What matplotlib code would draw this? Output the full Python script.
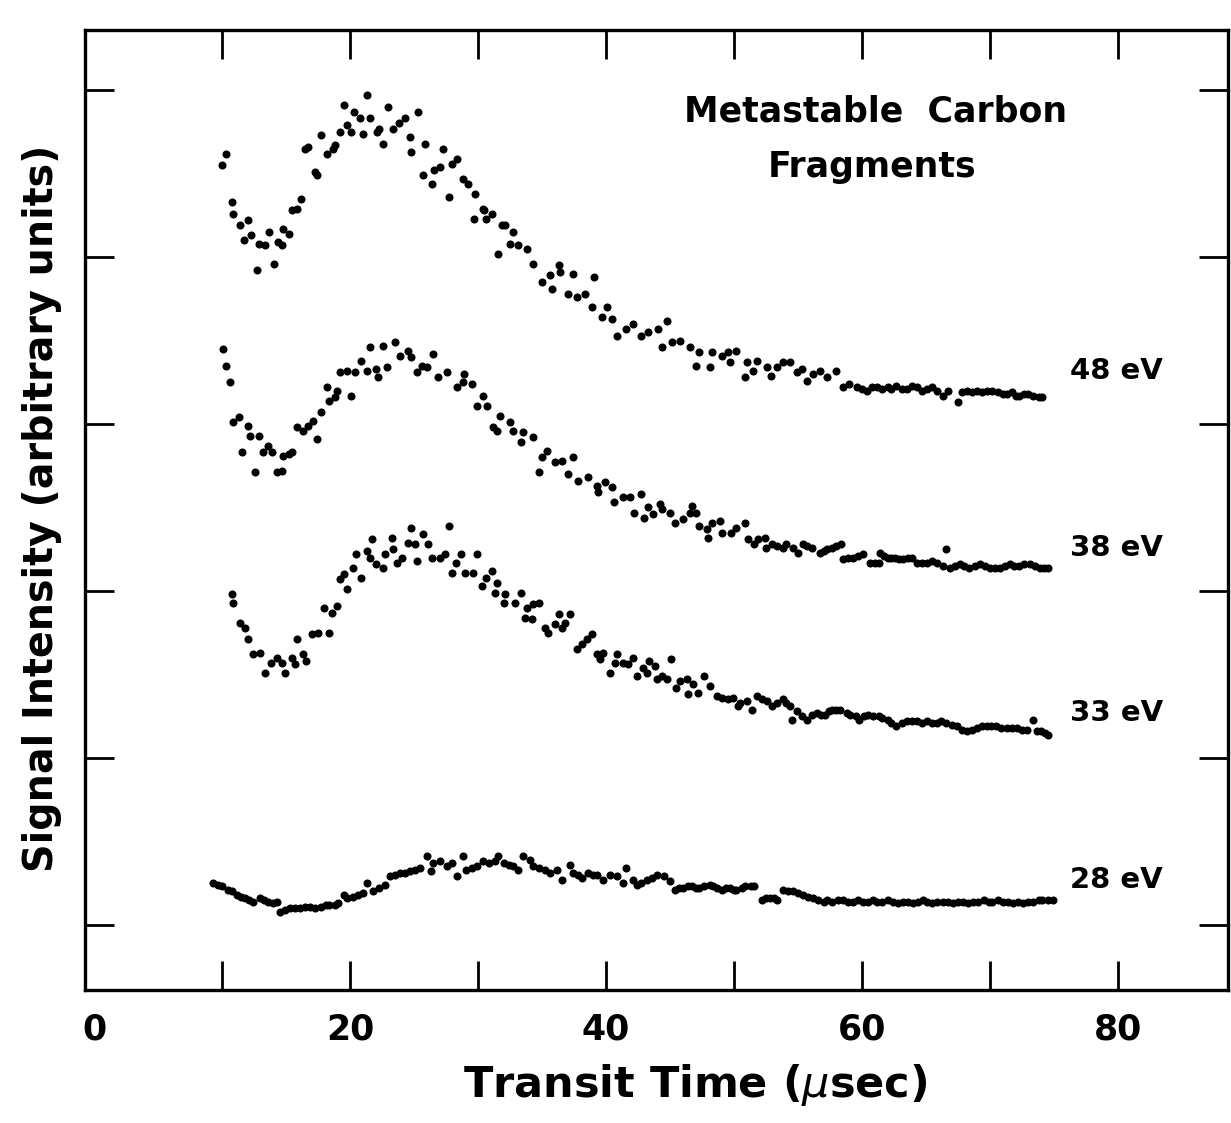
import matplotlib
matplotlib.use("Agg")
import matplotlib.pyplot as plt

# transit time (usec) and signal (arbitrary units, stacked traces)
x48 = [10.0, 10.3, 10.8, 10.9, 11.4, 11.7, 12.0, 12.3, 12.7, 12.9, 13.4, 13.7, 14.1, 14.4, 14.7, 14.8,
       15.2, 15.5, 15.9, 16.2, 16.5, 16.7, 17.3, 17.4, 17.7, 18.2, 18.7, 18.8, 19.2, 19.5, 19.8, 20.1,
       20.3, 20.8, 21.0, 21.3, 21.6, 22.1, 22.3, 22.6, 23.0, 23.4, 23.8, 24.3, 24.7, 24.8, 25.3, 25.7,
       25.9, 26.4, 26.6, 27.0, 27.3, 27.7, 28.0, 28.4, 28.8, 29.2, 29.7, 29.8, 30.4, 30.5, 30.6, 31.1,
       31.6, 31.9, 32.1, 32.5, 32.7, 33.1, 33.8, 34.3, 35.0, 35.6, 35.8, 36.3, 36.4, 37.0, 37.4, 37.7,
       38.4, 38.9, 39.1, 39.7, 40.1, 40.5, 40.9, 41.6, 42.1, 42.7, 43.3, 44.1, 44.4, 44.8, 45.2, 45.8,
       46.6, 47.0, 47.3, 48.1, 48.3, 49.1, 49.5, 49.7, 50.2, 50.9, 51.0, 51.5, 51.8, 52.6, 52.9, 53.4,
       53.8, 54.4, 54.9, 55.3, 55.7, 56.2, 56.7, 57.3, 58.0, 58.5, 59.0, 59.6, 60.0, 60.4, 60.8, 61.2,
       61.6, 62.0, 62.3, 62.7, 63.1, 63.5, 63.9, 64.3, 64.7, 65.1, 65.5, 65.9, 66.3, 66.7, 67.5, 67.8,
       68.2, 68.6, 69.0, 69.4, 69.8, 70.2, 70.6, 71.0, 71.3, 71.7, 72.0, 72.3, 72.7, 73.0, 73.4, 73.8,
       74.1]
y48 = [4.55, 4.62, 4.33, 4.26, 4.19, 4.10, 4.22, 4.13, 3.92, 4.08, 4.07, 4.15, 3.96, 4.09, 4.07, 4.17,
       4.14, 4.28, 4.29, 4.35, 4.65, 4.66, 4.51, 4.49, 4.73, 4.62, 4.65, 4.67, 4.75, 4.91, 4.79, 4.75,
       4.87, 4.83, 4.74, 4.97, 4.83, 4.75, 4.77, 4.68, 4.90, 4.77, 4.80, 4.83, 4.72, 4.63, 4.87, 4.49,
       4.68, 4.44, 4.52, 4.54, 4.65, 4.36, 4.56, 4.59, 4.47, 4.44, 4.23, 4.38, 4.29, 4.28, 4.23, 4.26,
       4.02, 4.19, 4.19, 4.08, 4.15, 4.07, 4.05, 3.96, 3.85, 3.89, 3.81, 3.95, 3.91, 3.78, 3.90, 3.76,
       3.78, 3.70, 3.88, 3.64, 3.70, 3.63, 3.53, 3.57, 3.60, 3.53, 3.55, 3.57, 3.46, 3.62, 3.49, 3.50,
       3.46, 3.35, 3.43, 3.34, 3.43, 3.41, 3.43, 3.37, 3.44, 3.28, 3.37, 3.32, 3.38, 3.34, 3.29, 3.34,
       3.37, 3.37, 3.31, 3.33, 3.26, 3.30, 3.32, 3.28, 3.32, 3.22, 3.24, 3.22, 3.21, 3.20, 3.22, 3.22,
       3.21, 3.22, 3.21, 3.23, 3.21, 3.21, 3.23, 3.22, 3.20, 3.21, 3.22, 3.20, 3.17, 3.20, 3.13, 3.19,
       3.20, 3.19, 3.20, 3.19, 3.20, 3.20, 3.19, 3.18, 3.18, 3.19, 3.17, 3.17, 3.18, 3.18, 3.17, 3.16,
       3.16]

x38 = [10.1, 10.3, 10.6, 10.9, 11.3, 11.6, 12.0, 12.2, 12.6, 12.9, 13.2, 13.6, 13.9, 14.3, 14.7, 14.8,
       15.2, 15.5, 15.9, 16.3, 16.7, 17.1, 17.4, 17.7, 18.2, 18.4, 18.8, 19.0, 19.2, 19.8, 20.1, 20.4,
       20.9, 21.3, 21.6, 22.0, 22.2, 22.6, 22.9, 23.5, 23.9, 24.5, 24.8, 25.2, 25.6, 26.0, 26.5, 26.9,
       27.6, 28.4, 28.8, 28.9, 29.5, 29.9, 30.4, 30.7, 31.2, 31.5, 31.7, 32.5, 32.7, 33.4, 33.5, 34.3,
       34.8, 35.0, 35.4, 36.0, 36.6, 37.0, 37.4, 37.8, 38.6, 39.3, 39.4, 39.9, 40.5, 40.6, 41.3, 41.9,
       42.2, 42.7, 43.0, 43.3, 43.7, 44.2, 44.4, 45.0, 45.4, 46.0, 46.6, 46.7, 47.0, 47.3, 47.9, 48.0,
       48.3, 48.9, 49.1, 49.8, 50.2, 50.9, 51.1, 51.6, 51.9, 52.4, 52.5, 53.0, 53.4, 53.8, 54.1, 54.6,
       55.0, 55.4, 55.7, 56.1, 56.7, 57.0, 57.3, 57.7, 58.0, 58.4, 58.5, 58.9, 59.3, 59.7, 60.1, 60.6,
       61.0, 61.3, 61.4, 61.7, 62.0, 62.3, 62.6, 62.9, 63.2, 63.6, 63.9, 64.3, 64.7, 65.1, 65.5, 65.9,
       66.3, 66.6, 66.9, 67.3, 67.7, 68.0, 68.4, 68.8, 69.2, 69.6, 70.0, 70.4, 70.8, 71.2, 71.6, 71.9,
       72.3, 72.7, 73.1, 73.5, 73.9, 74.2, 74.5]
y38 = [3.45, 3.35, 3.25, 3.01, 3.04, 2.83, 2.99, 2.93, 2.71, 2.93, 2.83, 2.87, 2.83, 2.71, 2.72, 2.81,
       2.82, 2.83, 2.98, 2.96, 2.99, 3.02, 2.91, 3.07, 3.22, 3.14, 3.16, 3.20, 3.31, 3.32, 3.17, 3.31,
       3.38, 3.32, 3.46, 3.33, 3.28, 3.47, 3.34, 3.49, 3.41, 3.44, 3.40, 3.31, 3.35, 3.34, 3.42, 3.28,
       3.31, 3.22, 3.25, 3.30, 3.24, 3.11, 3.17, 3.11, 2.98, 2.96, 3.05, 3.01, 2.96, 2.89, 2.95, 2.92,
       2.71, 2.80, 2.84, 2.77, 2.78, 2.70, 2.80, 2.66, 2.68, 2.63, 2.59, 2.65, 2.62, 2.53, 2.56, 2.56,
       2.47, 2.58, 2.44, 2.50, 2.46, 2.52, 2.49, 2.47, 2.41, 2.43, 2.47, 2.51, 2.47, 2.39, 2.37, 2.32,
       2.41, 2.42, 2.35, 2.35, 2.38, 2.41, 2.31, 2.28, 2.31, 2.32, 2.26, 2.28, 2.27, 2.26, 2.28, 2.26,
       2.23, 2.28, 2.27, 2.26, 2.23, 2.24, 2.25, 2.26, 2.27, 2.28, 2.19, 2.20, 2.20, 2.21, 2.22, 2.17,
       2.17, 2.17, 2.23, 2.21, 2.20, 2.20, 2.20, 2.19, 2.19, 2.20, 2.20, 2.17, 2.17, 2.17, 2.18, 2.17,
       2.15, 2.25, 2.14, 2.15, 2.16, 2.15, 2.14, 2.15, 2.16, 2.15, 2.14, 2.14, 2.14, 2.15, 2.16, 2.15,
       2.15, 2.16, 2.16, 2.15, 2.14, 2.14, 2.14]

x33 = [10.8, 10.9, 11.4, 11.8, 12.0, 12.4, 13.0, 13.4, 13.8, 14.3, 14.7, 14.9, 15.5, 15.7, 15.9, 16.3,
       16.6, 17.0, 17.5, 18.0, 18.4, 18.6, 19.0, 19.2, 19.5, 19.8, 20.2, 20.5, 20.9, 21.3, 21.6, 21.7,
       22.0, 22.6, 22.7, 23.3, 23.4, 23.7, 24.1, 24.5, 24.8, 25.1, 25.2, 25.7, 26.1, 26.4, 27.0, 27.4,
       27.7, 28.0, 28.3, 28.7, 29.0, 29.6, 29.9, 30.3, 30.6, 31.1, 31.3, 31.5, 32.0, 32.1, 32.9, 33.4,
       33.7, 33.8, 34.2, 34.3, 34.8, 35.2, 35.5, 36.0, 36.3, 36.6, 36.8, 37.2, 37.7, 38.1, 38.5, 38.9,
       39.3, 39.5, 39.8, 40.3, 40.7, 40.9, 41.3, 41.7, 42.1, 42.4, 42.9, 43.2, 43.4, 43.8, 44.0, 44.4,
       44.8, 45.1, 45.5, 45.8, 46.3, 46.4, 46.8, 47.2, 47.7, 48.1, 48.7, 49.1, 49.5, 49.9, 50.3, 50.5,
       51.0, 51.4, 51.8, 52.2, 52.6, 53.0, 53.4, 53.8, 54.1, 54.4, 54.5, 54.9, 55.3, 55.7, 56.1, 56.5,
       56.8, 57.1, 57.4, 57.7, 58.0, 58.3, 58.8, 59.1, 59.5, 59.8, 60.2, 60.5, 60.9, 61.3, 61.6, 62.0,
       62.3, 62.7, 63.1, 63.5, 63.9, 64.3, 64.7, 65.1, 65.5, 65.9, 66.2, 66.6, 67.0, 67.4, 67.8, 68.2,
       68.6, 69.0, 69.4, 69.8, 70.1, 70.5, 70.9, 71.3, 71.7, 72.1, 72.5, 72.9, 73.4, 73.7, 74.0, 74.3,
       74.5]
y33 = [1.98, 1.93, 1.81, 1.78, 1.71, 1.62, 1.63, 1.51, 1.57, 1.60, 1.57, 1.51, 1.60, 1.56, 1.71, 1.62,
       1.58, 1.74, 1.75, 1.90, 1.75, 1.87, 1.91, 2.07, 2.10, 2.01, 2.14, 2.22, 2.08, 2.24, 2.20, 2.31,
       2.16, 2.14, 2.22, 2.32, 2.25, 2.17, 2.20, 2.29, 2.38, 2.28, 2.18, 2.34, 2.28, 2.20, 2.20, 2.22,
       2.39, 2.11, 2.17, 2.22, 2.11, 2.11, 2.22, 2.03, 2.08, 2.12, 1.99, 2.05, 1.93, 1.98, 1.93, 1.99,
       1.84, 1.90, 1.83, 1.92, 1.93, 1.78, 1.75, 1.80, 1.86, 1.78, 1.81, 1.86, 1.65, 1.68, 1.71, 1.74,
       1.62, 1.59, 1.63, 1.51, 1.57, 1.62, 1.57, 1.56, 1.60, 1.49, 1.54, 1.51, 1.58, 1.55, 1.47, 1.49,
       1.47, 1.59, 1.42, 1.46, 1.47, 1.38, 1.44, 1.39, 1.49, 1.43, 1.37, 1.36, 1.35, 1.36, 1.31, 1.33,
       1.34, 1.29, 1.37, 1.35, 1.34, 1.31, 1.33, 1.35, 1.33, 1.31, 1.23, 1.28, 1.25, 1.23, 1.26, 1.27,
       1.26, 1.26, 1.28, 1.29, 1.29, 1.29, 1.27, 1.26, 1.25, 1.23, 1.25, 1.26, 1.25, 1.25, 1.24, 1.23,
       1.21, 1.19, 1.21, 1.22, 1.22, 1.22, 1.21, 1.22, 1.21, 1.21, 1.22, 1.21, 1.20, 1.19, 1.17, 1.16,
       1.17, 1.18, 1.19, 1.19, 1.19, 1.19, 1.18, 1.18, 1.18, 1.18, 1.17, 1.17, 1.23, 1.16, 1.16, 1.15,
       1.14]

x28 = [9.3, 9.7, 10.0, 10.5, 10.8, 11.2, 11.5, 11.8, 12.1, 12.4, 13.0, 13.3, 13.6, 14.0, 14.3, 14.5,
       14.9, 15.3, 15.7, 16.1, 16.5, 16.9, 17.3, 17.7, 18.1, 18.4, 18.8, 19.1, 19.5, 19.8, 20.2, 20.6,
       21.0, 21.3, 21.8, 22.3, 22.7, 23.1, 23.5, 23.9, 24.3, 24.7, 25.1, 25.5, 26.0, 26.3, 26.5, 27.0,
       27.6, 28.0, 28.4, 28.8, 29.1, 29.5, 29.9, 30.4, 30.9, 31.3, 31.6, 32.0, 32.4, 32.7, 33.1, 33.5,
       34.1, 34.3, 34.8, 35.2, 35.6, 36.2, 36.6, 37.2, 37.4, 37.8, 38.1, 38.6, 39.0, 39.3, 39.8, 40.3,
       40.9, 41.3, 41.6, 42.1, 42.4, 42.7, 43.2, 43.6, 44.0, 44.5, 45.0, 45.4, 45.7, 46.0, 46.4, 46.7,
       47.0, 47.3, 47.7, 48.1, 48.4, 48.7, 49.1, 49.4, 49.7, 50.0, 50.2, 50.6, 50.9, 51.3, 51.6, 52.2,
       52.5, 52.8, 53.1, 53.4, 53.8, 54.2, 54.6, 55.0, 55.4, 55.8, 56.2, 56.6, 57.0, 57.3, 57.7, 58.1,
       58.5, 58.9, 59.3, 59.7, 60.1, 60.5, 60.9, 61.2, 61.6, 62.0, 62.4, 62.8, 63.2, 63.6, 64.0, 64.4,
       64.8, 65.1, 65.5, 65.9, 66.3, 66.7, 67.1, 67.5, 67.9, 68.3, 68.7, 69.1, 69.5, 69.9, 70.2, 70.6,
       71.0, 71.4, 71.8, 72.2, 72.6, 73.0, 73.4, 73.8, 74.1, 74.5, 74.9]
y28 = [0.25, 0.24, 0.23, 0.21, 0.20, 0.18, 0.17, 0.16, 0.15, 0.14, 0.16, 0.15, 0.14, 0.13, 0.14, 0.08,
       0.09, 0.10, 0.10, 0.10, 0.11, 0.11, 0.10, 0.11, 0.12, 0.12, 0.12, 0.13, 0.18, 0.16, 0.17, 0.18,
       0.19, 0.25, 0.20, 0.22, 0.24, 0.29, 0.30, 0.31, 0.31, 0.32, 0.33, 0.34, 0.41, 0.32, 0.37, 0.38,
       0.35, 0.37, 0.29, 0.41, 0.33, 0.34, 0.35, 0.38, 0.37, 0.38, 0.41, 0.37, 0.36, 0.35, 0.33, 0.41,
       0.39, 0.35, 0.34, 0.33, 0.31, 0.33, 0.27, 0.36, 0.31, 0.30, 0.28, 0.31, 0.30, 0.30, 0.27, 0.30,
       0.29, 0.25, 0.34, 0.27, 0.24, 0.25, 0.27, 0.28, 0.30, 0.29, 0.26, 0.21, 0.22, 0.22, 0.23, 0.23,
       0.22, 0.22, 0.23, 0.24, 0.23, 0.22, 0.21, 0.22, 0.22, 0.21, 0.21, 0.22, 0.23, 0.23, 0.23, 0.15,
       0.16, 0.16, 0.16, 0.15, 0.21, 0.20, 0.20, 0.19, 0.18, 0.17, 0.16, 0.15, 0.14, 0.15, 0.14, 0.15,
       0.15, 0.14, 0.14, 0.15, 0.14, 0.14, 0.15, 0.14, 0.14, 0.15, 0.14, 0.13, 0.14, 0.14, 0.13, 0.14,
       0.15, 0.14, 0.13, 0.14, 0.14, 0.14, 0.13, 0.14, 0.14, 0.13, 0.14, 0.14, 0.15, 0.14, 0.14, 0.15,
       0.14, 0.14, 0.13, 0.14, 0.13, 0.14, 0.14, 0.15, 0.15, 0.15, 0.15]

series = [(x48, y48), (x38, y38), (x33, y33), (x28, y28)]
energy_labels = ["48 eV", "38 eV", "33 eV", "28 eV"]
label_levels = [3.32, 2.26, 1.27, 0.27]
xticks_major = [0, 20, 40, 60, 80]
xticks_minor = [10, 30, 50, 70]

W, H = 1231, 1123
fig = plt.figure(figsize=(W / 100, H / 100), dpi=100)
ax = fig.add_axes([85 / W, 133 / H, 1143 / W, 960 / H])

for (xs, ys) in series:
    ax.plot(xs, ys, linestyle="none", marker="o", markersize=5.8,
            color="black", markeredgewidth=0)

for lab, lev in zip(energy_labels, label_levels):
    ax.text(79.9, lev, lab, ha="center", va="center", fontsize=21, fontweight="bold")

ax.text(61.1, 4.87, "Metastable  Carbon", ha="center", va="center", fontsize=25, fontweight="bold")
ax.text(60.8, 4.54, "Fragments", ha="center", va="center", fontsize=25, fontweight="bold")

ax.set_xlim(-0.7, 88.6)
ax.set_ylim(-0.39, 5.36)
ax.set_xticks(xticks_major)
ax.set_xticks(xticks_minor, minor=True)
ax.set_xticklabels([str(v) for v in xticks_major], fontsize=25, fontweight="bold")
ax.set_yticks([0, 1, 2, 3, 4, 5])
ax.set_yticklabels([])
ax.tick_params(which="both", direction="in", length=21, width=2,
               top=True, right=True, pad=16)
# no tick mark at 0, it sits on the frame in the original
first = ax.xaxis.get_major_ticks()[0]
first.tick1line.set_visible(False)
first.tick2line.set_visible(False)

for s in ax.spines.values():
    s.set_linewidth(2.4)

ax.set_xlabel("Transit Time ($\\mu$sec)", fontsize=31, fontweight="bold")
ax.xaxis.set_label_coords((695 - 85) / 1143, -(1062 - 990) / 960)
ax.set_ylabel("Signal Intensity (arbitrary units)", fontsize=28.5, fontweight="bold")
ax.yaxis.set_label_coords(-(85 - 62) / 1143, (990 - 508) / 960)

fig.savefig("out.png", dpi=100)
